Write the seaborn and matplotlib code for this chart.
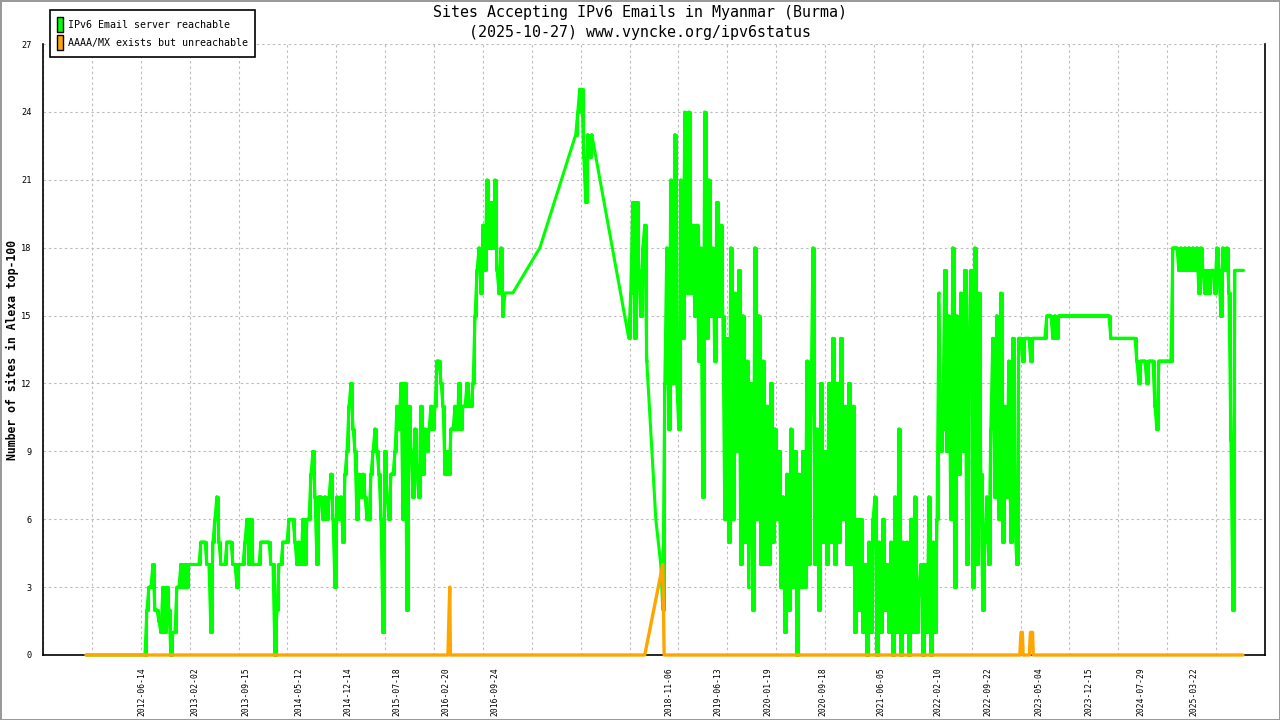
import numpy as np
import pandas as pd
import matplotlib
matplotlib.use("Agg")
import matplotlib.pyplot as plt
from matplotlib.patches import Patch
import matplotlib.dates as mdates
import seaborn as sns

""" Datos leidos del grafico """
# paso de muestreo de las sondas (unos 9 dias)
STEP = pd.Timedelta(hours=213)

# IPv6 Email server reachable, tramos densos: cada valor es una muestra
g_2012 = [0, 2, 3, 3, 4, 2, 2, 1.5, 1, 3,
          1, 3, 2, 0, 1, 1, 3, 3, 4, 3,
          4, 3, 4, 4, 4, 4, 4, 4, 5, 5,
          5, 4, 4, 1, 5, 6, 7, 5, 4, 4,
          4, 5, 5, 5, 4, 4, 3, 4, 4, 4,
          5, 6, 4, 6, 4, 4, 4, 4, 5, 5,
          5, 5, 5, 4, 4, 0, 2, 4, 4, 5,
          5, 5, 6, 6, 6, 5, 4, 5, 4, 6,
          4, 6, 6, 8, 9, 7, 4, 7]
g_2014 = [7, 6, 7, 6, 7, 8, 6, 3, 7, 6,
          7, 5, 8, 9, 11, 12, 10, 9, 6, 8,
          7, 8, 7, 6, 6, 8, 9, 10, 9, 8,
          6, 1, 9, 7, 6, 8, 8, 9, 11, 10,
          12, 6, 12, 2, 11, 9, 7, 10, 8, 7,
          11, 8, 10, 9, 10, 11, 10, 11, 13, 13,
          12, 11, 8, 9, 8, 10, 10, 11, 10, 12,
          10, 11, 11, 12, 11, 11, 12, 15, 17, 18,
          16, 19, 17, 21, 18, 20, 18, 21, 17, 16,
          18, 15]
g_2017 = [23, 24, 25, 25, 22, 20, 23, 22, 23]
g_2018a = [14, 16, 20, 14, 20, 17, 15, 18, 19, 13]
g_2018b = [2, 12, 18, 10, 21, 12, 23, 12, 10, 21,
           14, 24, 16, 24, 16, 19, 15, 19, 13, 18,
           7, 24, 14, 21, 15, 18, 13, 20, 15, 19,
           15, 6, 14, 5, 18, 6, 16, 9, 17, 4,
           15, 5, 13, 3]
g_2019 = [12, 2, 18, 6, 15, 4, 13, 4, 11, 4,
          12, 5, 10, 6, 9, 3, 7, 1, 8, 2,
          10, 3, 9, 0, 8, 3, 9, 3, 13, 4,
          11, 18, 4, 10, 2, 12, 5, 9, 4, 12,
          5, 14, 4, 12, 5, 14, 6, 11, 4, 12,
          4, 11, 1, 6, 2, 6, 1, 4, 0, 5,
          1, 6, 7, 0, 5, 1, 6, 2, 4, 1,
          5, 0, 7, 1, 10, 0, 5, 1, 5, 0,
          6, 1, 7, 1, 3, 4, 0, 4, 1, 7,
          0, 5, 1, 6, 16]
g_2022 = [9, 10, 17, 9, 15, 6, 18, 3, 15, 8,
          16, 9, 17, 4, 13, 17, 3, 18, 4, 16,
          8, 2, 5, 7, 4, 10, 14, 7, 15, 6,
          16, 5, 11, 7, 13, 5, 14, 6, 4, 14]
g_2023 = ([14, 13, 14, 14, 14, 13, 14, 14, 14, 14, 14, 14, 14]
          + [15, 15, 15, 14, 15, 14, 15]
          + [15] * 25
          + [14] * 13
          + [13, 12, 13, 13, 13, 12, 13, 13, 13, 11, 10]
          + [13] * 7
          + [18, 18, 18, 17, 18, 17, 18, 17, 18, 17,
             18, 17, 18, 16, 18, 17, 16, 17, 16, 17,
             17, 16, 18, 17, 15, 18, 17, 18, 16, 9.5,
             2, 17, 17, 17, 17, 17])

green_runs = [("2012-06-26", g_2012), ("2014-08-16", g_2014),
              ("2017-09-19", g_2017), ("2018-05-12", g_2018a),
              ("2018-10-10", g_2018b), ("2019-11-05", g_2019),
              ("2022-02-24", g_2022), ("2023-02-14", g_2023)]

# muestras sueltas (periodos con pocas sondas)
green_pt_dates = ["2011-10-09", "2012-06-17", "2016-11-09", "2016-12-14",
                  "2017-04-13", "2018-09-09", "2018-10-01"]
green_pt_vals = [0, 0, 16, 16, 18, 6, 4]

# AAAA/MX exists but unreachable
orange_dates = ["2011-10-09", "2016-03-01", "2016-03-05", "2016-03-09", "2016-03-12",
                "2018-07-22", "2018-10-10", "2018-10-16",
                "2023-02-10", "2023-02-12", "2023-02-15", "2023-02-21", "2023-02-24",
                "2023-03-24", "2023-03-26", "2023-03-29", "2023-04-07", "2023-04-10",
                "2025-10-26"]
orange_vals = [0, 0, 1.5, 3, 0,
               0, 4, 0,
               0, 0.5, 1, 1, 0,
               0, 0.5, 1, 1, 0,
               0]

label_dates = ["2012-06-14", "2013-02-02", "2013-09-15", "2014-05-12", "2014-12-14",
               "2015-07-18", "2016-02-20", "2016-09-24", "2018-11-06", "2019-06-13",
               "2020-01-19", "2020-09-18", "2021-06-05", "2022-02-10", "2022-09-22",
               "2023-05-04", "2023-12-15", "2024-07-29", "2025-03-22"]
y_ticks = list(range(0, 28, 3))
x_start, x_end = "2011-04-01", "2026-02-01"

title1 = "Sites Accepting IPv6 Emails in Myanmar (Burma)"
title2 = "(2025-10-27) www.vyncke.org/ipv6status"
ylabel = "Number of sites in Alexa top-100"
leg_labels = ["IPv6 Email server reachable", "AAAA/MX exists but unreachable"]
GREEN, ORANGE = "#00ff00", "#ffa500"

""" Tablas """
tramos = [pd.DataFrame({"date": pd.date_range(s, periods=len(v), freq=STEP), "sites": v})
          for s, v in green_runs]
sueltos = pd.DataFrame({"date": pd.to_datetime(green_pt_dates), "sites": green_pt_vals})
df_green = pd.concat(tramos + [sueltos]).sort_values("date").reset_index(drop=True)
df_orange = pd.DataFrame({"date": pd.to_datetime(orange_dates), "sites": orange_vals})

""" Grafico """
sns.set_style("white")
plt.rcParams["font.family"] = ["DejaVu Sans Mono"]
for k in ["text.color", "axes.labelcolor", "xtick.color", "ytick.color"]:
    plt.rcParams[k] = "black"

fig = plt.figure(figsize=(12.8, 7.2), dpi=100, facecolor="white",
                 edgecolor="#9a9a9a", linewidth=2)
ax = fig.add_axes([43 / 1280, 65 / 720, 1222 / 1280, 611 / 720])

# serie completa (las rectas entre muestras sueltas) y los tramos densos en escalones
sns.lineplot(data=df_green, x="date", y="sites", ax=ax, color=GREEN, linewidth=2.2,
             estimator=None, sort=False, legend=False)
for t in tramos:
    sns.lineplot(data=t, x="date", y="sites", ax=ax, color=GREEN, linewidth=2.2,
                 estimator=None, sort=False, legend=False, drawstyle="steps-mid")
sns.lineplot(data=df_orange, x="date", y="sites", ax=ax, color=ORANGE, linewidth=2.4,
             estimator=None, sort=False, legend=False)
for ln in ax.lines:
    ln.set_clip_on(False)
    ln.set_zorder(3)

ax.set_xlim(pd.Timestamp(x_start), pd.Timestamp(x_end))
ax.set_ylim(0, 27)
lo, hi = ax.get_xlim()
ax.set_xticks(np.linspace(lo, hi, 26))
ax.set_xticklabels([])
ax.set_xticks(mdates.date2num(pd.to_datetime(label_dates)), minor=True)
ax.set_xticklabels(label_dates, minor=True, rotation=90, fontsize=5.8)
ax.tick_params(axis="x", which="major", direction="out", length=5, width=1, color="black")
ax.tick_params(axis="x", which="minor", length=0, pad=9)
ax.set_yticks(y_ticks)
ax.set_yticklabels([str(t) for t in y_ticks], fontsize=6.2)
ax.tick_params(axis="y", direction="inout", length=10, width=1, pad=3, color="black")

ax.grid(True, which="major", axis="both", color="#bdbdbd",
        linestyle=(0, (2.2, 2.6)), linewidth=0.8)
ax.set_axisbelow(True)
ax.spines["top"].set_visible(False)
for s in ["left", "right", "bottom"]:
    ax.spines[s].set_color("black")
    ax.spines[s].set_linewidth(1.2)
ax.set_xlabel("")
ax.set_ylabel("")

fig.text(0.5, 1 - 13 / 720, title1, ha="center", va="center", fontsize=10.8)
fig.text(0.5, 1 - 32 / 720, title2, ha="center", va="center", fontsize=10.8)
fig.text(12 / 1280, 1 - 350 / 720, ylabel, rotation=90, ha="center", va="center",
         fontsize=8.3, fontweight="bold")

handles = [Patch(facecolor=GREEN, edgecolor="black", linewidth=1, label=leg_labels[0]),
           Patch(facecolor=ORANGE, edgecolor="black", linewidth=1, label=leg_labels[1])]
leg = fig.legend(handles=handles, loc="upper left", bbox_to_anchor=(50 / 1280, 1 - 10 / 720),
                 bbox_transform=fig.transFigure, fancybox=False, framealpha=1,
                 edgecolor="black", prop={"family": "DejaVu Sans Mono", "size": 7.2},
                 handlelength=0.6, handleheight=2.0, handletextpad=0.55,
                 labelspacing=0.25, borderpad=0.67, borderaxespad=0)
leg.get_frame().set_linewidth(1.2)

plt.savefig("out.png", dpi=100, facecolor=fig.get_facecolor(), edgecolor=fig.get_edgecolor())
plt.close()
